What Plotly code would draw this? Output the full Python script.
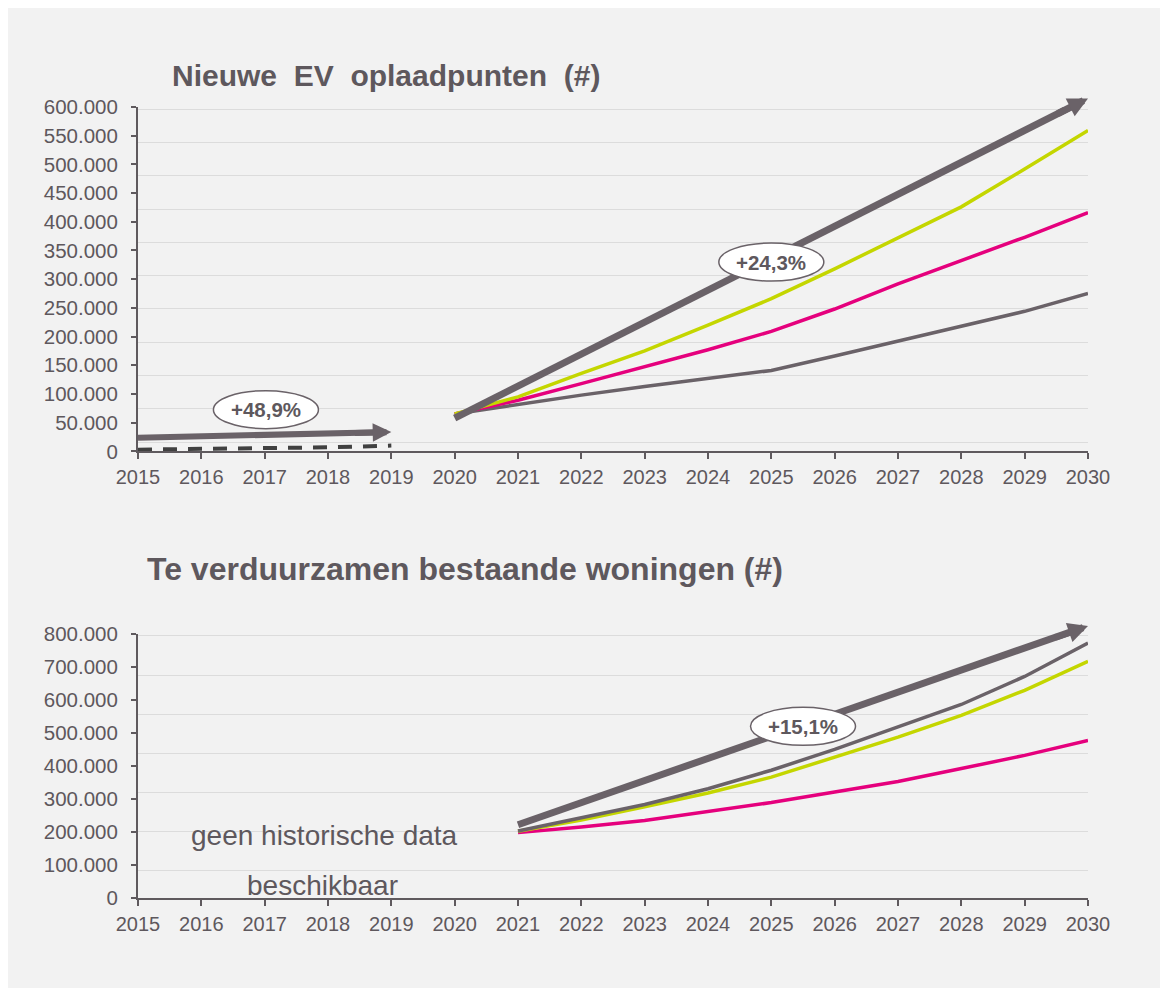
import plotly.graph_objects as go

# ---------------- data ----------------
years_axis = list(range(2015, 2031))

ev_hist_years = [2015, 2016, 2017, 2018, 2019]
ev_hist = [3000, 4000, 5000, 7000, 10000]

ev_fc_years = list(range(2020, 2031))
ev_green = [65000, 95000, 136000, 175000, 220000, 266000, 318000, 372000, 426000, 492000, 559000]
ev_pink = [65000, 89000, 118000, 147000, 177000, 209000, 248000, 292000, 332000, 373000, 416000]
ev_gray = [65000, 82000, 98000, 113000, 127000, 141000, 166000, 192000, 219000, 244000, 275000]

ev_arrow_hist_x = [2015, 2019]
ev_arrow_hist_y = [23800, 33600]
ev_arrow_fc_x = [2020, 2030]
ev_arrow_fc_y = [58000, 615000]

w_years = list(range(2021, 2031))
w_gray = [203000, 242000, 283000, 331000, 387000, 450000, 518000, 586000, 671000, 772000]
w_green = [202000, 236000, 276000, 318000, 366000, 427000, 487000, 553000, 629000, 717000]
w_pink = [198000, 215000, 235000, 263000, 289000, 321000, 353000, 392000, 432000, 477000]

w_arrow_x = [2021, 2030]
w_arrow_y = [222000, 824000]

cagr_labels = ["+48,9%", "+24,3%", "+15,1%"]
cagr_x = [2017.02, 2025.0, 2025.5]
cagr_y = [72700, 329800, 520000]
cagr_axis = ["", "", "2"]

title_top = "Nieuwe\u00a0 EV\u00a0 oplaadpunten\u00a0 (#)"
title_bottom = "Te verduurzamen bestaande woningen (#)"
note_lines = ["geen historische data", "beschikbaar"]
note_x = [2017.945, 2017.913]
note_y = [188300, 36900]

# ---------------- style ----------------
W, H = 1168, 988
OFF = 8  # page body margin
ML = 138 - OFF
MR = W - (1088 - OFF)
MT = 106.6 - OFF
MB = H - (897.7 - OFF)
FONT = "Liberation Sans, Arial, sans-serif"
GRAY = "#6a6268"
DARK = "#404040"
PINK = "#e5007d"
GREEN = "#c4d600"
TXT = "#5e585d"
GRID = "#dcdcdc"
AX = "#5f5a5e"

PW = W - ML - MR
PH = H - MT - MB


def pfy(pix):
    return (H - MB - (pix - OFF)) / PH


def pfx(pix):
    return (pix - OFF - ML) / PW


top_dom = [pfy(451), 1.0]
bot_dom = [0.0, pfy(633.5)]

fig = go.Figure()
shapes = []
annotations = []


def line(x, y, color, width, xa, ya, dash=None):
    fig.add_trace(go.Scatter(
        x=x, y=y, mode="lines", xaxis=xa, yaxis=ya,
        line=dict(color=color, width=width, dash=dash),
        hoverinfo="skip", showlegend=False))


def lerp(a, b, f):
    return a + (b - a) * f


def arrow(x, y, xa, ya, width, shaft_end, head_start, headsize):
    # shaft as a line trace (below the label ellipses), head as an annotation arrow
    fig.add_trace(go.Scatter(
        x=[x[0], lerp(x[0], x[1], shaft_end)], y=[y[0], lerp(y[0], y[1], shaft_end)],
        mode="lines", xaxis=xa, yaxis=ya, line=dict(color=GRAY, width=width),
        hoverinfo="skip", showlegend=False))
    annotations.append(dict(
        x=x[1], y=y[1], xref=xa, yref=ya,
        ax=lerp(x[0], x[1], head_start), ay=lerp(y[0], y[1], head_start),
        axref=xa, ayref=ya, text="", showarrow=True, arrowhead=2,
        arrowsize=headsize, arrowwidth=width, arrowcolor=GRAY,
        standoff=0, startstandoff=0))


# top chart
line(ev_hist_years, ev_hist, DARK, 4, "x", "y", dash="14px,11px")
arrow(ev_arrow_hist_x, ev_arrow_hist_y, "x", "y", 6, 0.96, 0.85, 0.62)
line(ev_fc_years, ev_gray, GRAY, 3.5, "x", "y")
line(ev_fc_years, ev_pink, PINK, 3.5, "x", "y")
line(ev_fc_years, ev_green, GREEN, 3.5, "x", "y")
arrow(ev_arrow_fc_x, ev_arrow_fc_y, "x", "y", 7, 0.985, 0.95, 0.57)

# bottom chart
line(w_years, w_pink, PINK, 3.5, "x2", "y2")
line(w_years, w_green, GREEN, 3.5, "x2", "y2")
line(w_years, w_gray, GRAY, 3.5, "x2", "y2")
arrow(w_arrow_x, w_arrow_y, "x2", "y2", 7, 0.983, 0.94, 0.57)

# empty traces to register gridline overlay axes
fig.add_trace(go.Scatter(x=[], y=[], xaxis="x", yaxis="y3", showlegend=False, hoverinfo="skip"))
fig.add_trace(go.Scatter(x=[], y=[], xaxis="x2", yaxis="y4", showlegend=False, hoverinfo="skip"))

xcommon = dict(range=[2015, 2030], tickvals=years_axis, tickformat="d",
               showline=True, linecolor=AX, linewidth=2, ticks="outside", ticklen=6,
               tickwidth=1.5, tickcolor=AX, showgrid=False, zeroline=False,
               tickfont=dict(size=20, color=TXT, family=FONT), ticklabelstandoff=1)
ycommon = dict(showline=True, linecolor=AX, linewidth=2, ticks="outside", ticklen=5,
               tickwidth=1.5, tickcolor=AX, showgrid=False, zeroline=False,
               tickformat=",d", tickfont=dict(size=20.5, color=TXT, family=FONT),
               ticklabelstandoff=9)
gridcommon = dict(showgrid=True, gridcolor=GRID, gridwidth=1.2, showline=False,
                  showticklabels=False, ticks="", zeroline=False, dtick=1, tick0=0)

fig.update_layout(
    width=W, height=H,
    margin=dict(l=ML, r=MR, t=MT, b=MB),
    paper_bgcolor="#f2f2f2", plot_bgcolor="rgba(0,0,0,0)",
    separators=",.",
    font=dict(family=FONT, color=TXT),
    xaxis=dict(anchor="y", domain=[0, 1], **xcommon),
    xaxis2=dict(anchor="y2", domain=[0, 1], **xcommon),
    yaxis=dict(anchor="x", domain=top_dom, range=[0, 600000], dtick=50000, **ycommon),
    yaxis2=dict(anchor="x2", domain=bot_dom, range=[0, 800000], dtick=100000, **ycommon),
    yaxis3=dict(overlaying="y", anchor="x", range=[0.7205, 11.072], **gridcommon),
    yaxis4=dict(overlaying="y2", anchor="x2", range=[0.2965, 7.055], **gridcommon),
)

annotations += [
    dict(text="<b>" + title_top + "</b>", xref="paper", yref="paper",
         x=pfx(170), y=pfy(75.5), xanchor="left", yanchor="middle",
         showarrow=False, font=dict(size=30, color=TXT, family=FONT)),
    dict(text="<b>" + title_bottom + "</b>", xref="paper", yref="paper",
         x=pfx(145), y=pfy(568.5), xanchor="left", yanchor="middle",
         showarrow=False, font=dict(size=32, color=TXT, family=FONT)),
]
for t, nx, ny in zip(note_lines, note_x, note_y):
    annotations.append(dict(text=t, xref="x2", yref="y2", x=nx, y=ny,
                            xanchor="center", yanchor="middle", showarrow=False,
                            font=dict(size=28, color=TXT, family=FONT)))
for lab, cx, cy, ax in zip(cagr_labels, cagr_x, cagr_y, cagr_axis):
    shapes.append(dict(type="circle", xref="x" + ax, yref="y" + ax,
                       xsizemode="pixel", ysizemode="pixel", xanchor=cx, yanchor=cy,
                       x0=-52.5, x1=52.5, y0=-19, y1=19,
                       fillcolor="white", line=dict(color=GRAY, width=1.5), layer="above"))
    annotations.append(dict(text="<b>" + lab + "</b>", xref="x" + ax, yref="y" + ax,
                            x=cx, y=cy, xanchor="center", yanchor="middle", showarrow=False,
                            font=dict(size=20.5, color=TXT, family=FONT)))

fig.update_layout(shapes=shapes, annotations=annotations)
fig.write_html("out.html")
